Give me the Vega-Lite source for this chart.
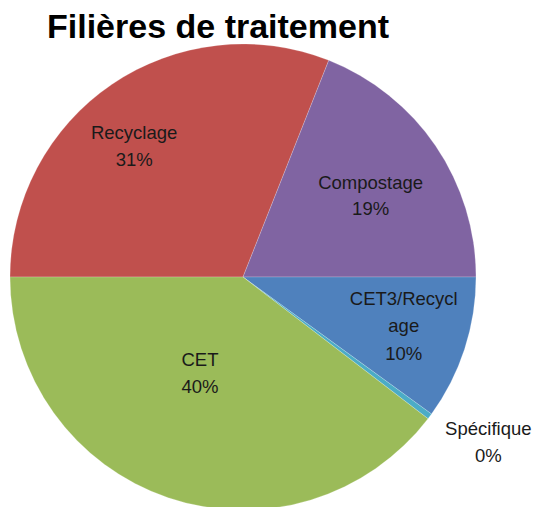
{
  "$schema": "https://vega.github.io/schema/vega-lite/v6.json",
  "width": 486,
  "height": 466,
  "autosize": {"type": "none"},
  "padding": {"top": 44, "left": 0, "right": 54, "bottom": 0},
  "background": "white",
  "title": {
    "text": "Filières de traitement",
    "font": "Liberation Sans",
    "fontSize": 34,
    "fontWeight": "bold",
    "color": "#000000",
    "anchor": "middle",
    "dx": -25,
    "offset": -24
  },
  "config": {"view": {"stroke": null}},
  "data": {
    "values": [
      {"cat": "Recyclage", "value": 31, "label": "Recyclage\n31%", "ord": 1},
      {"cat": "Compostage", "value": 19, "label": "Compostage\n19%", "ord": 2},
      {"cat": "CET3/Recyclage", "value": 10, "label": "CET3/Recycl\nage\n10%", "ord": 3},
      {"cat": "Spécifique", "value": 0.4, "label": "Spécifique\n0%", "ord": 4},
      {"cat": "CET", "value": 39.6, "label": "CET\n40%", "ord": 5}
    ]
  },
  "encoding": {
    "theta": {"field": "value", "type": "quantitative", "stack": true, "scale": {"range": [4.71239, 10.99557]}},
    "order": {"field": "ord", "type": "quantitative"}
  },
  "layer": [
    {
      "mark": {"type": "arc", "stroke": "#ffffff", "strokeWidth": 0.2},
      "encoding": {
        "color": {
          "field": "cat", "type": "nominal", "legend": null,
          "scale": {
            "domain": ["Recyclage", "Compostage", "CET3/Recyclage", "Spécifique", "CET"],
            "range": ["#C0504D", "#8064A2", "#4F81BD", "#4BACC6", "#9BBB59"]
          }
        }
      }
    },
    {
      "mark": {"type": "text", "radius": 170, "thetaOffset": -0.098, "dy": -13, "font": "Liberation Sans", "fontSize": 18.5, "lineHeight": 27, "lineBreak": "\n", "color": "#1a1a1a"},
      "encoding": {"text": {"condition": {"test": "datum.cat === 'Recyclage'", "field": "label"}, "value": ""}}
    },
    {
      "mark": {"type": "text", "radius": 151, "thetaOffset": 0.033, "dy": -13, "font": "Liberation Sans", "fontSize": 18.5, "lineHeight": 26, "lineBreak": "\n", "color": "#1a1a1a"},
      "encoding": {"text": {"condition": {"test": "datum.cat === 'Compostage'", "field": "label"}, "value": ""}}
    },
    {
      "mark": {"type": "text", "radius": 168, "thetaOffset": -0.019, "dy": -27, "font": "Liberation Sans", "fontSize": 18.5, "lineHeight": 27.5, "lineBreak": "\n", "color": "#1a1a1a"},
      "encoding": {"text": {"condition": {"test": "datum.cat === 'CET3/Recyclage'", "field": "label"}, "value": ""}}
    },
    {
      "mark": {"type": "text", "radius": 106, "thetaOffset": 0.091, "dy": -14, "font": "Liberation Sans", "fontSize": 18.5, "lineHeight": 27, "lineBreak": "\n", "color": "#1a1a1a"},
      "encoding": {"text": {"condition": {"test": "datum.cat === 'CET'", "field": "label"}, "value": ""}}
    },
    {
      "mark": {"type": "text", "radius": 295, "thetaOffset": -0.052, "dy": -12, "font": "Liberation Sans", "fontSize": 18.5, "lineHeight": 27, "lineBreak": "\n", "color": "#1a1a1a"},
      "encoding": {"text": {"condition": {"test": "datum.cat === 'Spécifique'", "field": "label"}, "value": ""}}
    }
  ]
}
